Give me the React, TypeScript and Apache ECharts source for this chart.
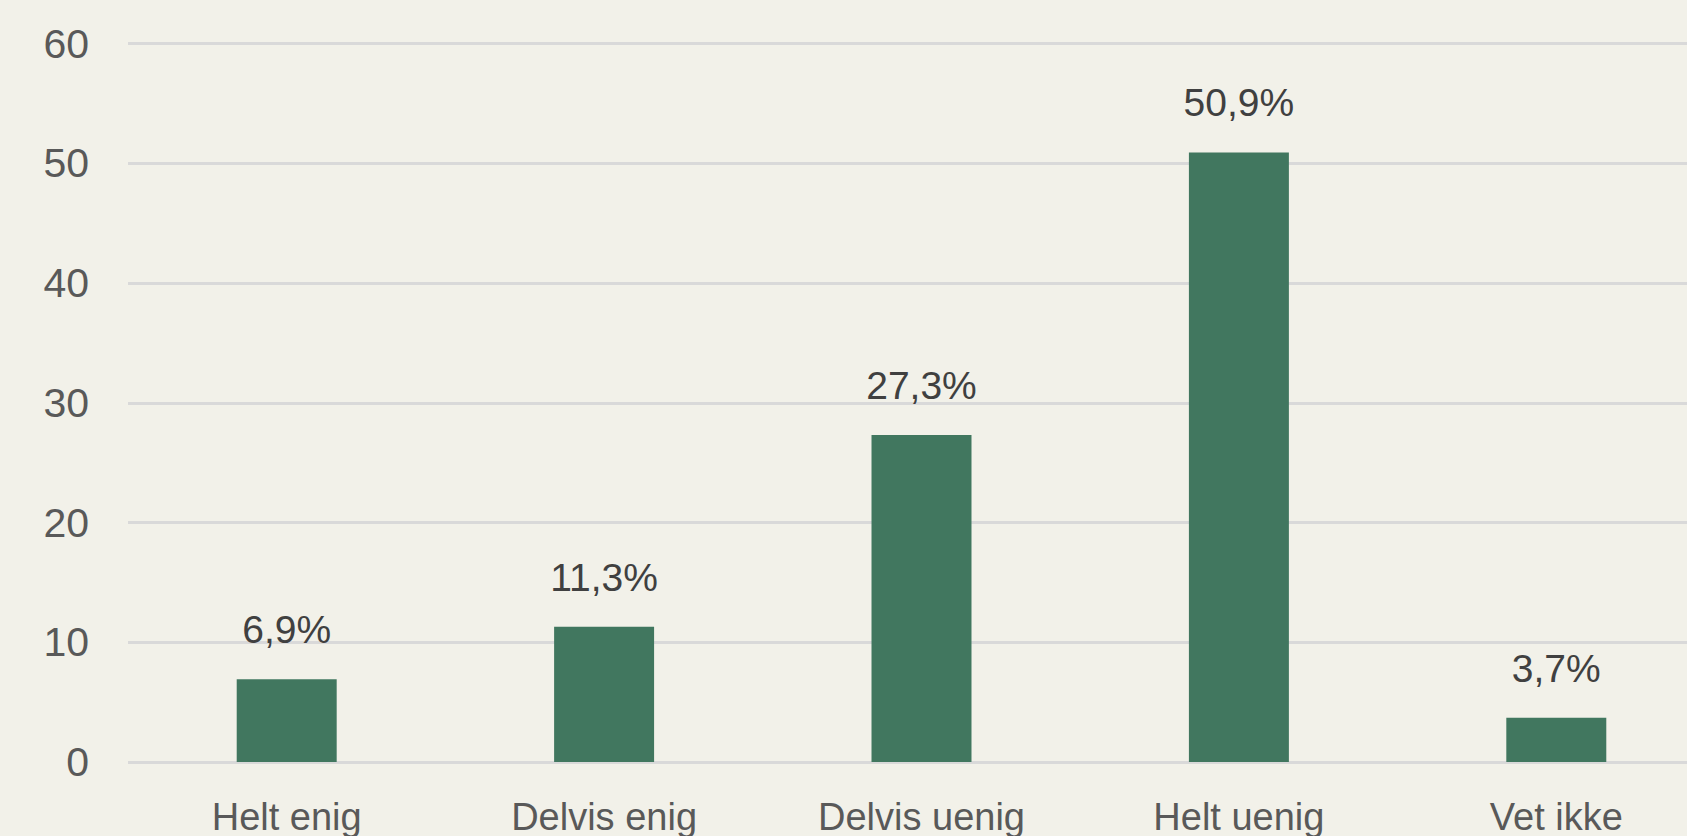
import React, { useEffect, useRef } from "react";
import * as echarts from "echarts";

const categories = ["Helt enig", "Delvis enig", "Delvis uenig", "Helt uenig", "Vet ikke"];
const values = [6.9, 11.3, 27.3, 50.9, 3.7];
const yTicks = { min: 0, max: 60, interval: 10 };

export default function App() {
  const ref = useRef<HTMLDivElement>(null);
  useEffect(() => {
    document.body.style.margin = "0";
    document.body.style.background = "#f2f1e9";
    const chart = echarts.init(ref.current!, null, { renderer: "svg" });
    chart.setOption({
      animation: false,
      backgroundColor: "#f2f1e9",
      grid: { left: 128, right: 0, top: 43.5, bottom: 73, containLabel: false },
      xAxis: {
        type: "category",
        data: categories,
        axisLine: { show: false },
        axisTick: { show: false },
        axisLabel: {
          color: "#595959",
          fontFamily: "Liberation Sans, Arial, sans-serif",
          fontSize: 38,
          margin: 36,
        },
      },
      yAxis: {
        type: "value",
        min: yTicks.min,
        max: yTicks.max,
        interval: yTicks.interval,
        axisLine: { show: false },
        axisTick: { show: false },
        axisLabel: {
          color: "#595959",
          fontFamily: "Liberation Sans, Arial, sans-serif",
          fontSize: 41,
          margin: 39,
        },
        splitLine: { lineStyle: { color: "#d9d9d9", width: 3 } },
      },
      series: [
        {
          type: "bar",
          data: values,
          barWidth: "31.5%",
          itemStyle: { color: "#41775f" },
          label: {
            show: true,
            position: "top",
            distance: 30,
            color: "#404040",
            fontFamily: "Liberation Sans, Arial, sans-serif",
            fontSize: 39,
            formatter: (p: any) => String(p.value).replace(".", ",") + "%",
          },
        },
      ],
    });
    return () => chart.dispose();
  }, []);
  return (
    <div style={{ width: 1687, height: 836, overflow: "hidden" }}>
      <div ref={ref} style={{ width: 1715, height: 836 }} />
    </div>
  );
}
